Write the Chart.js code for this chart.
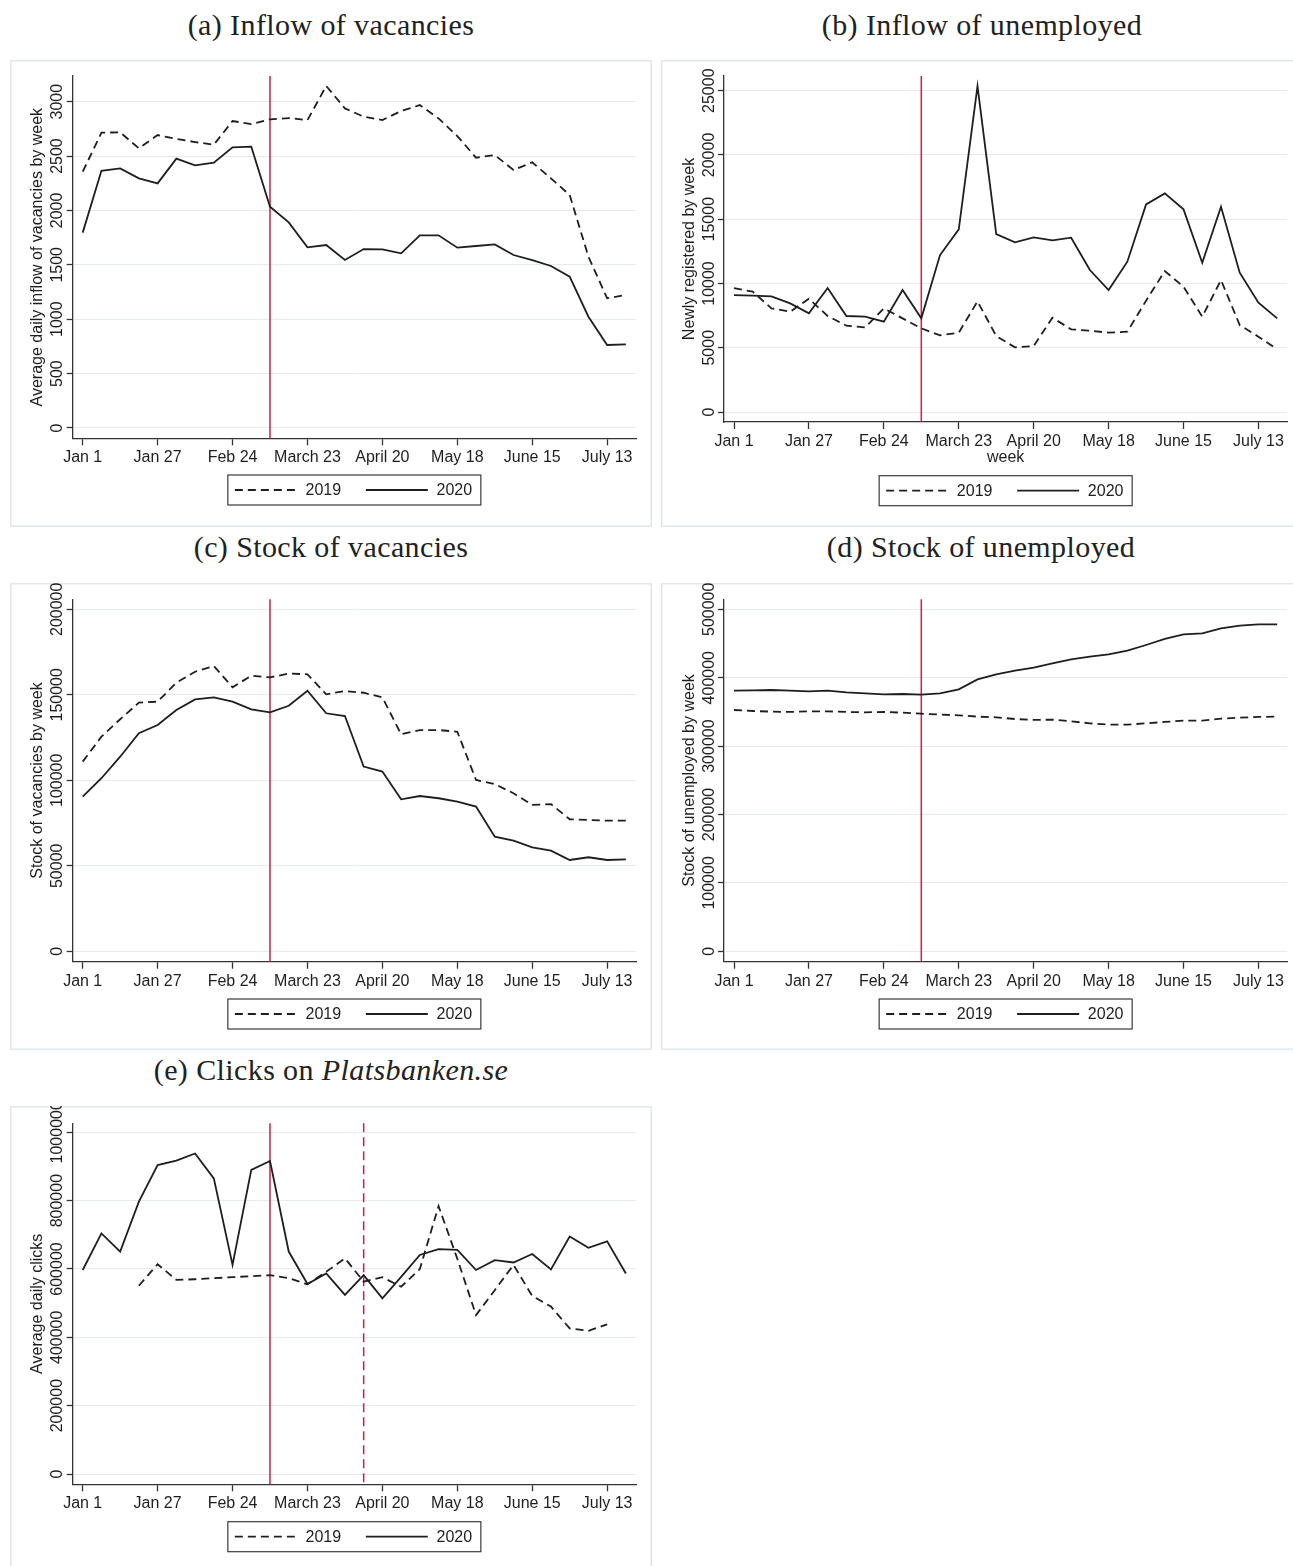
<!DOCTYPE html>
<html>
<head>
<meta charset="utf-8">
<script src="https://cdn.jsdelivr.net/npm/chart.js@4.4.1/dist/chart.umd.min.js"></script>
<style>
  html, body { margin: 0; padding: 0; overflow: hidden; background: #fff; }
  body { width: 1293px; height: 1566px; position: relative; }
  canvas { position: absolute; }
  .title {
    position: absolute;
    font-family: "Liberation Serif", "Times New Roman", serif;
    font-size: 30px;
    letter-spacing: 0.4px;
    color: #222;
    white-space: nowrap;
    transform: translate(-50%, -50%);
  }
</style>
</head>
<body>
<div class="title" style="left:331px; top:25px;">(a) Inflow of vacancies</div>
<div class="title" style="left:982px; top:25px;">(b) Inflow of unemployed</div>
<div class="title" style="left:331px; top:547px;">(c) Stock of vacancies</div>
<div class="title" style="left:981px; top:547px;">(d) Stock of unemployed</div>
<div class="title" style="left:331px; top:1070px;">(e) Clicks on <i>Platsbanken.se</i></div>

<canvas id="chartA" width="642" height="467" style="left:10px; top:60px;"></canvas>
<canvas id="chartB" width="642" height="467" style="left:661px; top:60px;"></canvas>
<canvas id="chartC" width="642" height="467" style="left:10px; top:583px;"></canvas>
<canvas id="chartD" width="642" height="467" style="left:661px; top:583px;"></canvas>
<canvas id="chartE" width="642" height="470" style="left:10px; top:1106px;"></canvas>

<script>
// week index, 1 = first week of January
const weeks = [1, 2, 3, 4, 5, 6, 7, 8, 9, 10, 11, 12, 13, 14, 15, 16, 17, 18, 19, 20, 21, 22, 23, 24, 25, 26, 27, 28, 29, 30];
const xTickWeeks = [1, 5, 9, 13, 17, 21, 25, 29];
const xTickLabels = ["Jan 1", "Jan 27", "Feb 24", "March 23", "April 20", "May 18", "June 15", "July 13"];
const seriesLabels = ["2019", "2020"];

// weeks marked with a vertical line
const eventWeeks = [11];
const clicksEventWeeks = [11, 16];

// (a) inflow of vacancies
const inflowVac2019 = [2356, 2715, 2718, 2571, 2693, 2657, 2629, 2604, 2822, 2794, 2837, 2849, 2831, 3144, 2938, 2862, 2831, 2914, 2969, 2846, 2684, 2485, 2509, 2372, 2442, 2295, 2142, 1575, 1192, 1223];
const inflowVac2020 = [1796, 2365, 2387, 2295, 2249, 2476, 2414, 2439, 2580, 2586, 2034, 1890, 1661, 1682, 1544, 1645, 1642, 1606, 1771, 1771, 1658, 1673, 1688, 1590, 1544, 1489, 1391, 1023, 763, 769];
const inflowVacTicks = [0, 500, 1000, 1500, 2000, 2500, 3000];

// (b) inflow of unemployed
const inflowUnemp2019 = [9646, 9361, 8064, 7805, 8816, 7468, 6716, 6586, 8064, 7286, 6508, 5964, 6171, 8609, 5912, 5030, 5134, 7338, 6431, 6327, 6171, 6249, 8661, 10968, 9750, 7416, 10268, 6768, 5860, 4875];
const inflowUnemp2020 = [9101, 9050, 8998, 8453, 7675, 9646, 7468, 7416, 7027, 9490, 7286, 12213, 14210, 25360, 13847, 13198, 13587, 13354, 13561, 11046, 9490, 11694, 16154, 17010, 15765, 11617, 15973, 10839, 8505, 7286];
const inflowUnempTicks = [0, 5000, 10000, 15000, 20000, 25000];

// (c) stock of vacancies
const stockVac2019 = [110900, 125500, 135700, 145400, 146000, 157100, 163500, 166800, 154400, 161200, 160200, 162400, 162000, 150300, 152200, 151200, 148500, 126900, 129400, 129400, 128400, 100200, 97800, 92400, 85600, 86100, 77200, 76800, 76400, 76400];
const stockVac2020 = [90400, 101200, 113800, 127500, 132300, 141100, 147300, 148500, 146000, 141500, 139700, 143600, 152400, 139200, 137600, 108000, 105100, 88900, 90800, 89500, 87500, 84600, 67000, 64700, 60800, 58900, 53400, 55000, 53400, 53800];
const stockVacTicks = [0, 50000, 100000, 150000, 200000];

// (d) stock of unemployed
const stockUnemp2019 = [352800, 351300, 350400, 349900, 350900, 350900, 349900, 349400, 349900, 348900, 347400, 346000, 345000, 343100, 342100, 339600, 338200, 338700, 336200, 333300, 331400, 331400, 333300, 335300, 337200, 337200, 340100, 341600, 342600, 343100];
const stockUnemp2020 = [381100, 381600, 382000, 381100, 380100, 381100, 378600, 377200, 375700, 376200, 375200, 377200, 383000, 397600, 404900, 410300, 414700, 421000, 426900, 430800, 434200, 439500, 447800, 456600, 463400, 464900, 472200, 476100, 478000, 478000];
const stockUnempTicks = [0, 100000, 200000, 300000, 400000, 500000];

// (e) clicks on Platsbanken.se
const clicks2019 = [null, null, null, 551000, 614000, 568000, 570000, 573000, 576000, 579000, 582000, 573000, 555000, 592000, 631000, 563000, 576000, 548000, 600000, 784000, 630000, 465000, 538000, 612000, 521000, 490000, 426000, 419000, 438000, null];
const clicks2020 = [597000, 704000, 651000, 797000, 904000, 917000, 938000, 865000, 612000, 890000, 916000, 651000, 556000, 587000, 524000, 582000, 514000, 577000, 641000, 658000, 656000, 597000, 626000, 619000, 644000, 599000, 695000, 662000, 681000, 587000];
const clicksTicks = [0, 200000, 400000, 600000, 800000, 1000000];

const SANS = "'Liberation Sans', Arial, Helvetica, sans-serif";
const INK = "#1e1e1e";
const AXIS = "#333333";
const GRID = "#e3ebee";
const RED = "#d41c46";

// frame, event lines, tick labels, axis titles and boxed legend (Stata look)
const stataDecor = {
    id: "stataDecor",
    beforeDraw(chart) {
        const ctx = chart.ctx;
        ctx.save();
        ctx.fillStyle = "#fff";
        ctx.fillRect(0, 0, chart.width, chart.height);
        ctx.strokeStyle = "#e1e7ea";
        ctx.lineWidth = 1.5;
        ctx.strokeRect(0.75, 0.75, chart.width - 1.5, chart.height - 1.5);
        ctx.restore();
    },
    beforeDatasetsDraw(chart, args, opts) {
        const ctx = chart.ctx;
        const area = chart.chartArea;
        const x = chart.scales.x;
        (opts.events || []).forEach((week, i) => {
            const px = x.getPixelForValue(week);
            ctx.save();
            ctx.strokeStyle = RED;
            ctx.lineWidth = 1.5;
            ctx.setLineDash(i > 0 ? [9, 5] : []);
            ctx.beginPath();
            ctx.moveTo(px, area.top);
            ctx.lineTo(px, area.bottom);
            ctx.stroke();
            ctx.restore();
        });
    },
    afterDraw(chart, args, opts) {
        const ctx = chart.ctx;
        const area = chart.chartArea;
        const x = chart.scales.x;
        const y = chart.scales.y;
        ctx.save();
        ctx.fillStyle = INK;
        ctx.font = "16px " + SANS;

        // x tick labels
        ctx.textAlign = "center";
        ctx.textBaseline = "middle";
        xTickWeeks.forEach((w, i) => {
            ctx.fillText(xTickLabels[i], x.getPixelForValue(w), area.bottom + 19.5);
        });

        // y tick labels, reading upwards
        y.ticks.forEach(t => {
            ctx.save();
            ctx.translate(area.left - 10.5, y.getPixelForValue(t.value));
            ctx.rotate(-Math.PI / 2);
            ctx.textAlign = "center";
            ctx.textBaseline = "alphabetic";
            ctx.fillText(String(t.value), 0, 0);
            ctx.restore();
        });

        // y title
        ctx.save();
        ctx.translate(area.left - 30.5, (area.top + area.bottom) / 2);
        ctx.rotate(-Math.PI / 2);
        ctx.textAlign = "center";
        ctx.textBaseline = "alphabetic";
        ctx.fillText(opts.yTitle, 0, 0);
        ctx.restore();

        const cx = (area.left + area.right) / 2;

        // x title
        if (opts.xTitle) {
            ctx.textAlign = "center";
            ctx.textBaseline = "middle";
            ctx.fillText(opts.xTitle, cx, area.bottom + 35.7);
        }

        // legend box
        const lw = 253, lh = 30;
        const lx = cx - lw / 2;
        const ly = area.bottom + opts.legendGap;
        ctx.strokeStyle = "#3a3a3a";
        ctx.lineWidth = 1.2;
        ctx.strokeRect(lx, ly, lw, lh);
        const midY = ly + lh / 2;
        chart.data.datasets.forEach((ds, i) => {
            const sx = lx + 7 + i * 131;
            ctx.save();
            ctx.strokeStyle = ds.borderColor;
            ctx.lineWidth = ds.borderWidth;
            ctx.setLineDash(ds.borderDash || []);
            ctx.beginPath();
            ctx.moveTo(sx, midY);
            ctx.lineTo(sx + 62, midY);
            ctx.stroke();
            ctx.restore();
            ctx.textAlign = "left";
            ctx.textBaseline = "middle";
            ctx.fillText(ds.label, sx + 70.7, midY + 1);
        });
        ctx.restore();
    }
};

function toPoints(values) {
    return weeks.map((w, i) => ({ x: w, y: values[i] }));
}

function buildChart(canvasId, cfg) {
    const canvas = document.getElementById(canvasId);
    const w = canvas.width, h = canvas.height;
    const a = cfg.area;

    return new Chart(canvas, {
        type: "line",
        data: {
            datasets: [
                {
                    label: seriesLabels[0],
                    data: toPoints(cfg.s2019),
                    borderColor: INK,
                    borderWidth: 1.8,
                    borderDash: [8, 5],
                    pointRadius: 0,
                    tension: 0,
                    spanGaps: false
                },
                {
                    label: seriesLabels[1],
                    data: toPoints(cfg.s2020),
                    borderColor: INK,
                    borderWidth: 1.8,
                    pointRadius: 0,
                    tension: 0
                }
            ]
        },
        options: {
            responsive: false,
            animation: false,
            devicePixelRatio: 1,
            events: [],
            layout: {
                padding: { left: a.l, top: a.t, right: w - a.r, bottom: h - a.b }
            },
            plugins: {
                legend: { display: false },
                tooltip: { enabled: false },
                stataDecor: {
                    yTitle: cfg.yTitle,
                    xTitle: cfg.xTitle || "",
                    legendGap: cfg.legendGap,
                    events: cfg.events
                }
            },
            scales: {
                x: {
                    type: "linear",
                    min: 0.466,
                    max: 30.54,
                    afterFit: s => { s.height = 0; },
                    afterBuildTicks: s => { s.ticks = xTickWeeks.map(v => ({ value: v })); },
                    ticks: { display: false },
                    grid: {
                        drawOnChartArea: false,
                        drawTicks: true,
                        tickLength: 7,
                        tickColor: AXIS,
                        tickWidth: 1.3
                    },
                    border: { display: true, color: AXIS, width: 1.3 }
                },
                y: {
                    type: "linear",
                    min: cfg.yMin,
                    max: cfg.yMax,
                    afterFit: s => { s.width = 0; },
                    afterBuildTicks: s => { s.ticks = cfg.yTicks.map(v => ({ value: v })); },
                    ticks: { display: false },
                    grid: {
                        color: GRID,
                        lineWidth: 1,
                        drawTicks: true,
                        tickLength: 6,
                        tickColor: AXIS,
                        tickWidth: 1.3
                    },
                    border: { display: true, color: AXIS, width: 1.3 }
                }
            }
        },
        plugins: [stataDecor]
    });
}

buildChart("chartA", {
    s2019: inflowVac2019, s2020: inflowVac2020, yTicks: inflowVacTicks,
    yMin: -95, yMax: 3236,
    area: { l: 62.7, t: 16, r: 626, b: 378.3 },
    yTitle: "Average daily inflow of vacancies by week",
    legendGap: 36.7, events: eventWeeks
});

buildChart("chartB", {
    s2019: inflowUnemp2019, s2020: inflowUnemp2020, yTicks: inflowUnempTicks,
    yMin: -778, yMax: 26144,
    area: { l: 63, t: 16, r: 626.3, b: 362 },
    yTitle: "Newly registered by week", xTitle: "week",
    legendGap: 53.7, events: eventWeeks
});

buildChart("chartC", {
    s2019: stockVac2019, s2020: stockVac2020, yTicks: stockVacTicks,
    yMin: -6082, yMax: 205848,
    area: { l: 62.7, t: 16.3, r: 626, b: 378.7 },
    yTitle: "Stock of vacancies by week",
    legendGap: 37.3, events: eventWeeks
});

buildChart("chartD", {
    s2019: stockUnemp2019, s2020: stockUnemp2020, yTicks: stockUnempTicks,
    yMin: -15205, yMax: 514620,
    area: { l: 63, t: 16.3, r: 626.3, b: 378.7 },
    yTitle: "Stock of unemployed by week",
    legendGap: 37.3, events: eventWeeks
});

buildChart("chartE", {
    s2019: clicks2019, s2020: clicks2020, yTicks: clicksTicks,
    yMin: -30143, yMax: 1026339,
    area: { l: 62.7, t: 17.3, r: 626, b: 378.3 },
    yTitle: "Average daily clicks",
    legendGap: 37.4, events: clicksEventWeeks
});
</script>
</body>
</html>
